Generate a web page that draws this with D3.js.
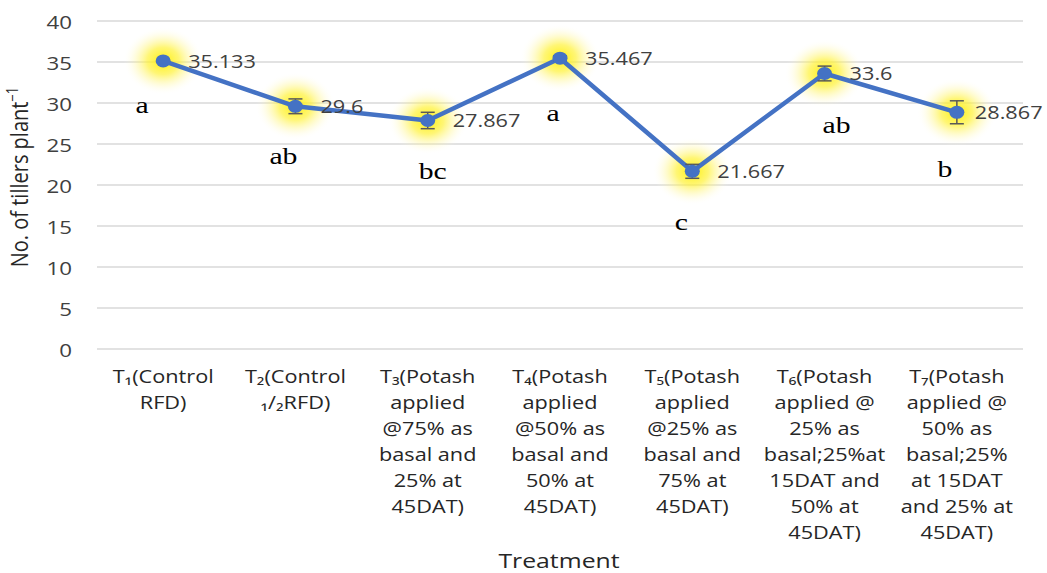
<!DOCTYPE html>
<html>
<head>
<meta charset="utf-8">
<script src="https://cdn.jsdelivr.net/npm/d3@7"></script>
<style>
  html, body { margin: 0; padding: 0; background: #fff; }
  svg { display: block; }
</style>
</head>
<body>
<svg id="chart" width="1047" height="573"></svg>
<script>
// Treatments (x categories), each label split into its wrapped lines
const treatments = ["T1", "T2", "T3", "T4", "T5", "T6", "T7"];
const treatmentLines = [
  ["T\u2081(Control", "RFD)"],
  ["T\u2082(Control", "\u2081/\u2082RFD)"],
  ["T\u2083(Potash", "applied", "@75% as", "basal and", "25% at", "45DAT)"],
  ["T\u2084(Potash", "applied", "@50% as", "basal and", "50% at", "45DAT)"],
  ["T\u2085(Potash", "applied", "@25% as", "basal and", "75% at", "45DAT)"],
  ["T\u2086(Potash", "applied @", "25% as", "basal;25%at", "15DAT and", "50% at", "45DAT)"],
  ["T\u2087(Potash", "applied @", "50% as", "basal;25%", "at 15DAT", "and 25% at", "45DAT)"]
];
// Mean number of tillers per plant
const tillers = [35.133, 29.6, 27.867, 35.467, 21.667, 33.6, 28.867];
// Standard error of each mean
const stdErr = [0.1, 0.9, 1.0, 0.3, 0.85, 0.9, 1.4];
// Significance grouping letters
const groups = ["a", "ab", "bc", "a", "c", "ab", "b"];
// Y axis ticks
const yTicks = [0, 5, 10, 15, 20, 25, 30, 35, 40];

const svg = d3.select("#chart");
const plot = { left: 97, right: 1023, top: 21, bottom: 349 };
const SANS = "Open Sans, sans-serif";
const WIDE = 1.24; // horizontal glyph stretch used by all text

const x = d3.scaleBand().domain(treatments).range([plot.left, plot.right]);
const y = d3.scaleLinear().domain([0, 40]).range([plot.bottom, plot.top]);
const cx = t => x(t) + x.bandwidth() / 2;
const at = (px, py) => `translate(${px},${py}) scale(${WIDE},1)`;

// Soft yellow halo behind each marker
const defs = svg.append("defs");
const glow = defs.append("radialGradient").attr("id", "halo");
glow.append("stop").attr("offset", "0%").attr("stop-color", "#fff000").attr("stop-opacity", 0.95);
glow.append("stop").attr("offset", "40%").attr("stop-color", "#fff23a").attr("stop-opacity", 0.7);
glow.append("stop").attr("offset", "75%").attr("stop-color", "#fff69a").attr("stop-opacity", 0.25);
glow.append("stop").attr("offset", "100%").attr("stop-color", "#ffffff").attr("stop-opacity", 0);

// Horizontal gridlines
svg.append("g")
  .selectAll("line")
  .data(yTicks)
  .join("line")
  .attr("x1", plot.left).attr("x2", plot.right)
  .attr("y1", d => y(d)).attr("y2", d => y(d))
  .attr("stroke", "#d9d9d9").attr("stroke-width", 1.3);

// Y axis tick labels
const yAxis = d3.axisLeft(y).tickValues(yTicks).tickSize(0).tickPadding(0);
svg.append("g")
  .attr("transform", `translate(${plot.left - 25},0)`)
  .call(yAxis)
  .call(g => g.select(".domain").remove())
  .call(g => g.selectAll(".tick text")
    .attr("x", null).attr("dy", null)
    .attr("transform", `scale(${WIDE},1)`)
    .attr("dominant-baseline", "central")
    .attr("font-family", SANS)
    .attr("font-size", 18)
    .attr("fill", "#404040"));

// X axis category labels (multi-line)
const xLab = svg.append("g")
  .selectAll("text")
  .data(treatments)
  .join("text")
  .attr("transform", d => at(cx(d), 383))
  .attr("text-anchor", "middle")
  .attr("font-family", SANS)
  .attr("font-size", 17.5)
  .attr("fill", "#262626");
xLab.each(function(d, i) {
  d3.select(this).selectAll("tspan")
    .data(treatmentLines[i])
    .join("tspan")
    .attr("x", 0)
    .attr("dy", (l, j) => j === 0 ? 0 : 26)
    .text(l => l);
});

// Axis titles
svg.append("text")
  .attr("transform", at(559, 568))
  .attr("text-anchor", "middle")
  .attr("font-family", SANS)
  .attr("font-size", 20)
  .attr("fill", "#262626")
  .text("Treatment");

const yTitle = svg.append("text")
  .attr("transform", "translate(28,177) rotate(-90) scale(1,1.2)")
  .attr("text-anchor", "middle")
  .attr("font-family", SANS)
  .attr("font-size", 20)
  .attr("fill", "#262626");
yTitle.append("tspan").text("No. of tillers plant");
yTitle.append("tspan").attr("dy", -8).attr("font-size", 13).text("\u22121");

// Halos
svg.append("g")
  .selectAll("ellipse")
  .data(treatments)
  .join("ellipse")
  .attr("cx", d => cx(d))
  .attr("cy", (d, i) => y(tillers[i]))
  .attr("rx", 40)
  .attr("ry", 34)
  .attr("fill", "url(#halo)");

// Connecting line
const line = d3.line().x(d => cx(d)).y((d, i) => y(tillers[i]));
svg.append("path")
  .datum(treatments)
  .attr("d", line)
  .attr("fill", "none")
  .attr("stroke", "#4472c4")
  .attr("stroke-width", 4.5)
  .attr("stroke-linejoin", "round");

// Error bars
const eb = svg.append("g").attr("stroke", "#595959").attr("stroke-width", 1.5);
treatments.forEach((t, i) => {
  const x0 = cx(t), hi = y(tillers[i] + stdErr[i]), lo = y(tillers[i] - stdErr[i]);
  eb.append("line").attr("x1", x0).attr("x2", x0).attr("y1", hi).attr("y2", lo);
  eb.append("line").attr("x1", x0 - 7).attr("x2", x0 + 7).attr("y1", hi).attr("y2", hi);
  eb.append("line").attr("x1", x0 - 7).attr("x2", x0 + 7).attr("y1", lo).attr("y2", lo);
});

// Markers
svg.append("g")
  .selectAll("ellipse")
  .data(treatments)
  .join("ellipse")
  .attr("cx", d => cx(d))
  .attr("cy", (d, i) => y(tillers[i]))
  .attr("rx", 7.5)
  .attr("ry", 6.5)
  .attr("fill", "#4472c4");

// Value labels (the last one is pulled in so it stays inside the frame)
const labelGap = [25, 25, 25, 25, 25, 25, 18];
svg.append("g")
  .selectAll("text")
  .data(treatments)
  .join("text")
  .attr("transform", (d, i) => at(cx(d) + labelGap[i], y(tillers[i])))
  .attr("dominant-baseline", "central")
  .attr("font-family", SANS)
  .attr("font-size", 17.5)
  .attr("fill", "#404040")
  .text((d, i) => String(tillers[i]));

// Group letters, nudged so they sit clear of the line
const letterNudgeX = [-21, -12, 5, -7, -11, 12, -12];
const letterNudgeY = [-7, -1, 0, 4, 0, 1, 6];
svg.append("g")
  .selectAll("text")
  .data(treatments)
  .join("text")
  .attr("transform", (d, i) => at(cx(d) + letterNudgeX[i], y(tillers[i]) + 51 + letterNudgeY[i]))
  .attr("dominant-baseline", "central")
  .attr("text-anchor", "middle")
  .attr("font-family", "Liberation Serif, Times New Roman, serif")
  .attr("font-size", 24)
  .attr("fill", "#000")
  .text((d, i) => groups[i]);
</script>
</body>
</html>
